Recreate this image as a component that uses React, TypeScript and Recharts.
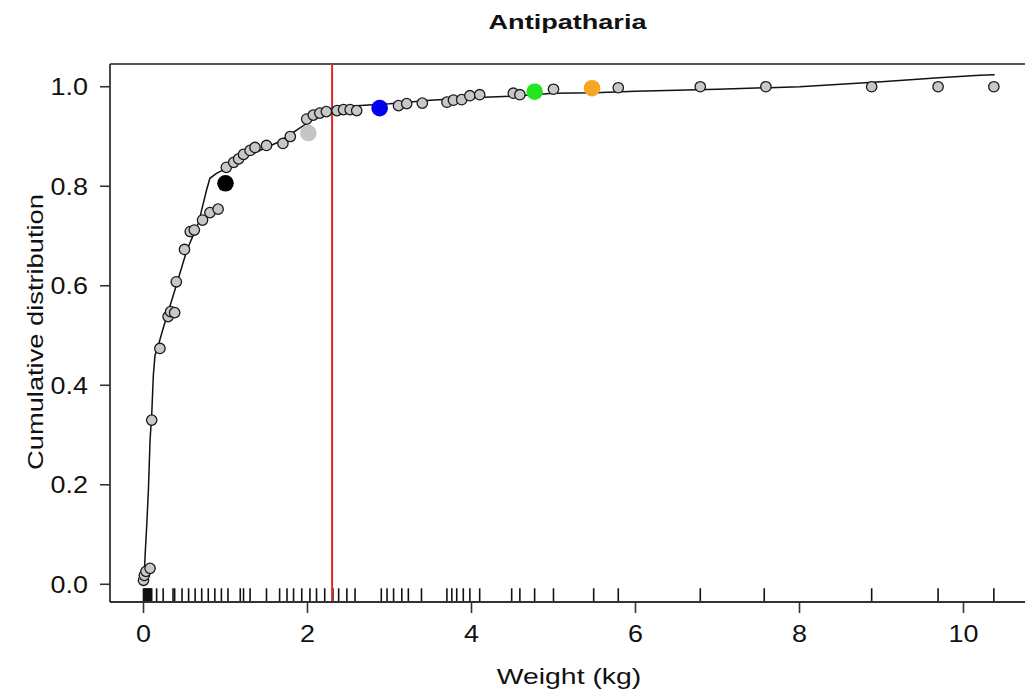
import React from "react";
import {
  ComposedChart,
  XAxis,
  YAxis,
  Line,
  Scatter,
  ReferenceLine,
  Cell,
} from "recharts";

// ---- data ----
const pointWeights = [
  0.0, 0.01, 0.03, 0.08, 0.1, 0.2, 0.3, 0.33, 0.38, 0.4, 0.5, 0.57, 0.62, 0.72,
  0.81, 0.91, 1.01, 1.1, 1.16, 1.22, 1.3, 1.36, 1.5, 1.7, 1.79, 1.99, 2.07,
  2.15, 2.23, 2.36, 2.44, 2.52, 2.6, 3.11, 3.21, 3.4, 3.7, 3.78, 3.88, 3.98,
  4.1, 4.51, 4.59, 5.0, 5.79, 6.79, 7.59, 8.88, 9.69, 10.37,
];
const pointCdf = [
  0.008, 0.018, 0.026, 0.032, 0.33, 0.474, 0.538, 0.548, 0.546, 0.608, 0.673,
  0.709, 0.712, 0.732, 0.747, 0.754, 0.838, 0.848, 0.855, 0.864, 0.872, 0.878,
  0.882, 0.886, 0.9, 0.935, 0.943, 0.947, 0.95, 0.952, 0.954, 0.954, 0.952,
  0.962, 0.966, 0.967, 0.969, 0.973, 0.974, 0.982, 0.984, 0.987, 0.984, 0.995,
  0.998, 1.0, 1.0, 1.0, 1.0, 1.0,
];

const highlightWeights = [1.0, 2.01, 2.88, 4.77, 5.47];
const highlightCdf = [0.806, 0.907, 0.957, 0.99, 0.997];
const highlightColors = ["#000000", "#c4c4c4", "#0000ee", "#22e622", "#f5a623"];

const curveWeights = [
  0, 0.01, 0.02, 0.04, 0.06, 0.08, 0.1, 0.12, 0.14, 0.18, 0.25, 0.38, 0.53,
  0.67, 0.77, 0.81, 0.89, 1.01, 1.26, 1.66, 1.95, 2.19, 2.31, 2.6, 3.0, 3.5,
  4.0, 4.5, 5.0, 5.5, 6.0, 7.0, 8.0, 9.0, 9.7, 10.2, 10.38,
];
const curveCdf = [
  0, 0.02, 0.06, 0.12, 0.19, 0.29, 0.34, 0.42, 0.46, 0.48, 0.52, 0.59, 0.672,
  0.726, 0.793, 0.816, 0.826, 0.836, 0.86, 0.89, 0.922, 0.947, 0.958, 0.962,
  0.966, 0.973, 0.978, 0.981, 0.987, 0.988, 0.991, 0.995, 1.0, 1.01, 1.018,
  1.023, 1.024,
];

const rugWeights = [
  0.0, 0.01, 0.02, 0.03, 0.04, 0.05, 0.06, 0.07, 0.08, 0.09, 0.1, 0.16, 0.24,
  0.36, 0.38, 0.47, 0.55, 0.63, 0.71, 0.79, 0.87, 0.95, 1.03, 1.18, 1.22, 1.3,
  1.5, 1.66, 1.75, 1.83, 1.93, 2.03, 2.11, 2.21, 2.31, 2.38, 2.48, 2.58, 2.9,
  2.97, 3.05, 3.15, 3.23, 3.39, 3.7, 3.76, 3.82, 3.9, 3.98, 4.1, 4.49, 4.59,
  4.77, 5.0, 5.49, 5.79, 6.79, 7.57, 8.88, 9.69, 10.37,
];

const xTicks = [0, 2, 4, 6, 8, 10];
const yTicks = [0, 0.2, 0.4, 0.6, 0.8, 1.0];
const cutoffWeight = 2.3;

const titleText = "Antipatharia";
const xLabelText = "Weight (kg)";
const yLabelText = "Cumulative distribution";

// ---- chart geometry ----
const X_MIN = -0.4085;
const X_MAX = 10.872;
const Y_MIN = -0.0356;
const Y_MAX = 1.0457;
const RUG_TOP = -0.008;

const FONT = "'Liberation Sans', Arial, sans-serif";
const AXIS_COLOR = "#333";

const points = pointWeights.map((x, i) => ({ x, y: pointCdf[i] }));
const highlights = highlightWeights.map((x, i) => ({ x, y: highlightCdf[i] }));
const curve = curveWeights.map((x, i) => ({ x, y: curveCdf[i] }));

const XTick = (props: any) => {
  const { x, y, payload } = props;
  return (
    <g transform={`translate(${x},${y}) scale(1.17,1)`}>
      <text
        x={0}
        y={0}
        dy="0.72em"
        textAnchor="middle"
        fontFamily={FONT}
        fontSize={23}
        fill="#111"
      >
        {String(payload.value)}
      </text>
    </g>
  );
};

const YTick = (props: any) => {
  const { x, y, payload } = props;
  return (
    <g transform={`translate(${x},${y}) scale(1.17,1)`}>
      <text
        x={0}
        y={0}
        dy="0.36em"
        textAnchor="end"
        fontFamily={FONT}
        fontSize={23}
        fill="#111"
      >
        {Number(payload.value).toFixed(1)}
      </text>
    </g>
  );
};

const SmallDot = (props: any) => {
  const { cx, cy } = props;
  if (cx == null || cy == null) return null;
  return (
    <circle cx={cx} cy={cy} r={5.2} fill="#c8c8c8" stroke="#1a1a1a" strokeWidth={1.3} />
  );
};

const BigDot = (props: any) => {
  const { cx, cy, fill } = props;
  if (cx == null || cy == null) return null;
  return <circle cx={cx} cy={cy} r={8.3} fill={fill} />;
};

export default function App() {
  return (
    <div
      style={{
        position: "absolute",
        left: 0,
        top: 0,
        width: 1025,
        height: 693,
        overflow: "hidden",
        background: "#fff",
      }}
    >
      <ComposedChart
        width={1045}
        height={693}
        margin={{ top: 64, right: 10, left: 50, bottom: 31 }}
      >
        <XAxis
          dataKey="x"
          type="number"
          domain={[X_MIN, X_MAX]}
          allowDataOverflow
          ticks={xTicks}
          tick={<XTick />}
          tickSize={11}
          tickMargin={12}
          height={60}
          axisLine={{ stroke: AXIS_COLOR, strokeWidth: 1.8 }}
          tickLine={{ stroke: AXIS_COLOR, strokeWidth: 1.6 }}
          interval={0}
        />
        <YAxis
          dataKey="y"
          type="number"
          domain={[Y_MIN, Y_MAX]}
          allowDataOverflow
          ticks={yTicks}
          tick={<YTick />}
          tickSize={10}
          tickMargin={12}
          width={60}
          axisLine={{ stroke: AXIS_COLOR, strokeWidth: 1.8 }}
          tickLine={{ stroke: AXIS_COLOR, strokeWidth: 1.6 }}
          interval={0}
        />
        <ReferenceLine y={Y_MAX} stroke="#555" strokeWidth={1.8} />
        {rugWeights.map((w, i) => (
          <ReferenceLine
            key={`rug-${i}`}
            segment={[
              { x: w, y: Y_MIN },
              { x: w, y: RUG_TOP },
            ]}
            stroke="#111"
            strokeWidth={1.6}
          />
        ))}
        <Line
          data={curve}
          dataKey="y"
          type="linear"
          stroke="#111"
          strokeWidth={1.5}
          dot={false}
          activeDot={false}
          isAnimationActive={false}
        />
        <Scatter
          data={points}
          dataKey="y"
          shape={<SmallDot />}
          isAnimationActive={false}
        />
        <Scatter
          data={highlights}
          dataKey="y"
          shape={<BigDot />}
          isAnimationActive={false}
        >
          {highlights.map((_, i) => (
            <Cell key={`hl-${i}`} fill={highlightColors[i]} />
          ))}
        </Scatter>
        <ReferenceLine x={cutoffWeight} stroke="#e0282a" strokeWidth={2} />
      </ComposedChart>
      <svg
        width={1025}
        height={693}
        style={{ position: "absolute", left: 0, top: 0, pointerEvents: "none" }}
      >
        <g transform="translate(567.5,28.5) scale(1.29,1)">
          <text
            textAnchor="middle"
            fontFamily={FONT}
            fontWeight="bold"
            fontSize={21}
            fill="#111"
          >
            {titleText}
          </text>
        </g>
        <g transform="translate(569,683.5) scale(1.29,1)">
          <text textAnchor="middle" fontFamily={FONT} fontSize={22} fill="#111">
            {xLabelText}
          </text>
        </g>
        <g transform="translate(43,332) rotate(-90) scale(1.24,1)">
          <text textAnchor="middle" fontFamily={FONT} fontSize={22} fill="#111">
            {yLabelText}
          </text>
        </g>
      </svg>
    </div>
  );
}
